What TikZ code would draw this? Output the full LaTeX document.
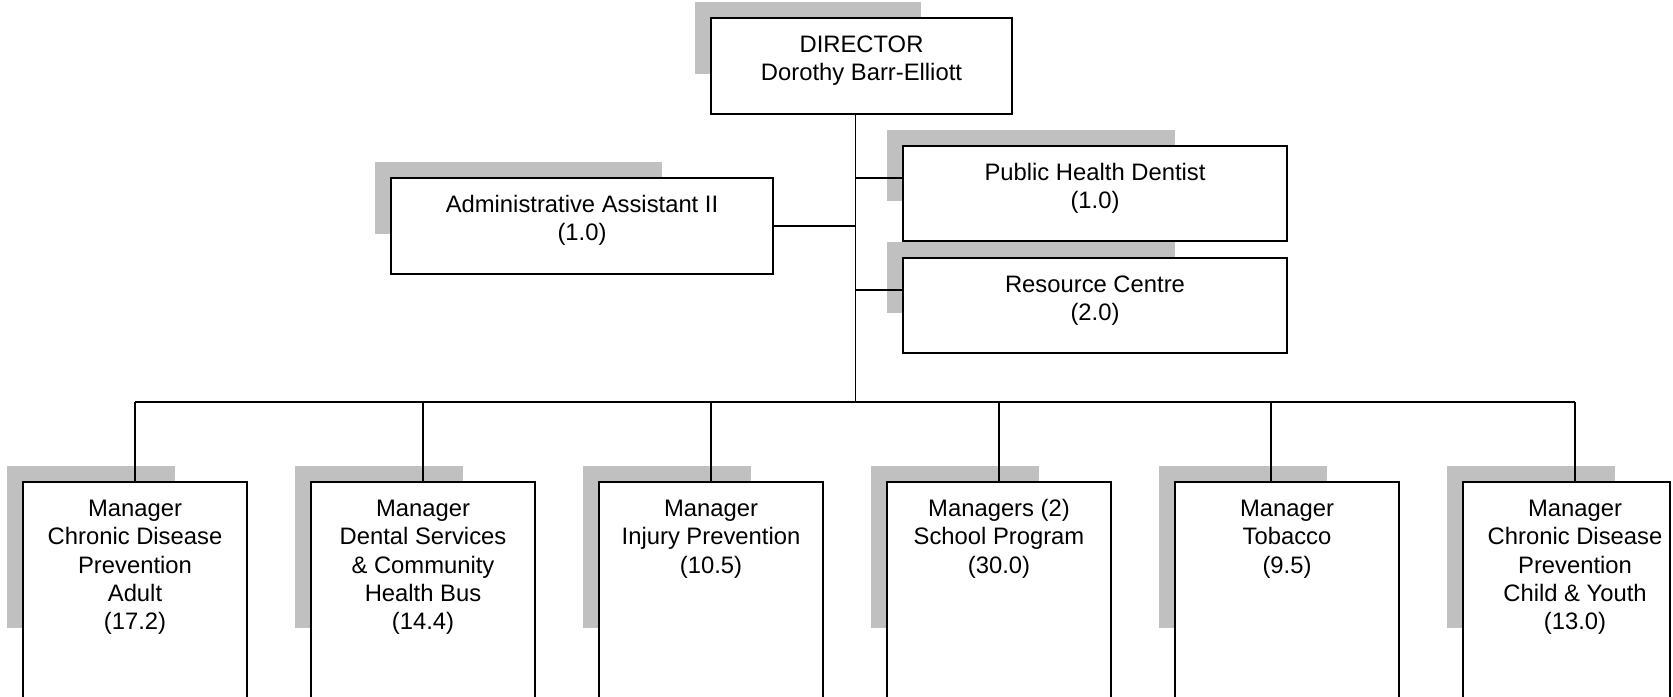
\documentclass[tikz,border=0pt]{standalone}
\usepackage{fontspec}
\setmainfont{Liberation Sans}
\definecolor{shadegray}{RGB}{192,192,192}
\tikzset{
  orgframe/.style={draw, line width=1.8pt, fill=white, inner sep=0pt, outer sep=0pt, anchor=north west},
  orgtext/.style={inner sep=0pt, align=center, anchor=north, font=\fontsize{23.8}{28.4}\selectfont},
  orgshade/.style={fill=shadegray},
  link/.style={line width=1.8pt},
}
% name, left, top, width, height, text
\newcommand\orgbox[6]{%
  \fill[orgshade] (#2-16,#3-16) rectangle ++(0.75*#4,0.75*#5);
  \node[orgframe, minimum width=#4pt, minimum height=#5pt] (#1) at (#2,#3) {};
  \node[orgtext] (#1t) at ([yshift=-14.3pt]#1.north) {\strut #6};
}
\begin{document}
\begin{tikzpicture}[x=1pt,y=-1pt]
\useasboundingbox (0,0) rectangle (1673,696);
\clip (0,0) rectangle (1673,696);

\orgbox{dir}{711}{18}{301}{96}{DIRECTOR\\Dorothy Barr-Elliott}
\orgbox{adm}{391}{178}{382}{96}{Administrative Assistant II\\(1.0)}
\orgbox{pub}{903}{146}{384}{95}{Public Health Dentist\\(1.0)}
\orgbox{res}{903}{258}{384}{95}{Resource Centre\\(2.0)}

\orgbox{m1}{23}{482}{224}{216}{Manager\\Chronic Disease\\Prevention\\Adult\\(17.2)}
\orgbox{m2}{311}{482}{224}{216}{Manager\\Dental Services\\\& Community\\Health Bus\\(14.4)}
\orgbox{m3}{599}{482}{224}{216}{Manager\\Injury Prevention\\(10.5)}
\orgbox{m4}{887}{482}{224}{216}{Managers (2)\\School Program\\(30.0)}
\orgbox{m5}{1175}{482}{224}{216}{Manager\\Tobacco\\(9.5)}

% last box, cut by the right edge of the page
\fill[orgshade] (1447,466) rectangle ++(168,162);
\node[orgframe, minimum width=207pt, minimum height=216pt] (m6) at (1463,482) {};
\coordinate (m6c) at (1575,482);
\node[orgtext] (m6t) at ([yshift=-14.3pt]m6c) {\strut Manager\\Chronic Disease\\Prevention\\Child \& Youth\\(13.0)};

% connectors
\coordinate (trunk) at ([xshift=-6pt]dir.south);
\coordinate (bus) at (trunk |- 0,402);
\draw[link] (trunk) -- (bus);
\draw[link] (adm.east) -- (adm.east -| trunk);
\draw[link] ([yshift=15.5pt]pub.west) -- ([yshift=15.5pt]pub.west -| trunk);
\draw[link] ([yshift=15.5pt]res.west) -- ([yshift=15.5pt]res.west -| trunk);

\coordinate (m5c) at ([xshift=-16pt]m5.north);
\draw[link] (m1.north |- bus) -- (m6c |- bus);
\draw[link] (m1.north |- bus) -- (m1.north);
\draw[link] (m2.north |- bus) -- (m2.north);
\draw[link] (m3.north |- bus) -- (m3.north);
\draw[link] (m4.north |- bus) -- (m4.north);
\draw[link] (m5c |- bus) -- (m5c);
\draw[link] (m6c |- bus) -- (m6c);
\end{tikzpicture}
\end{document}
